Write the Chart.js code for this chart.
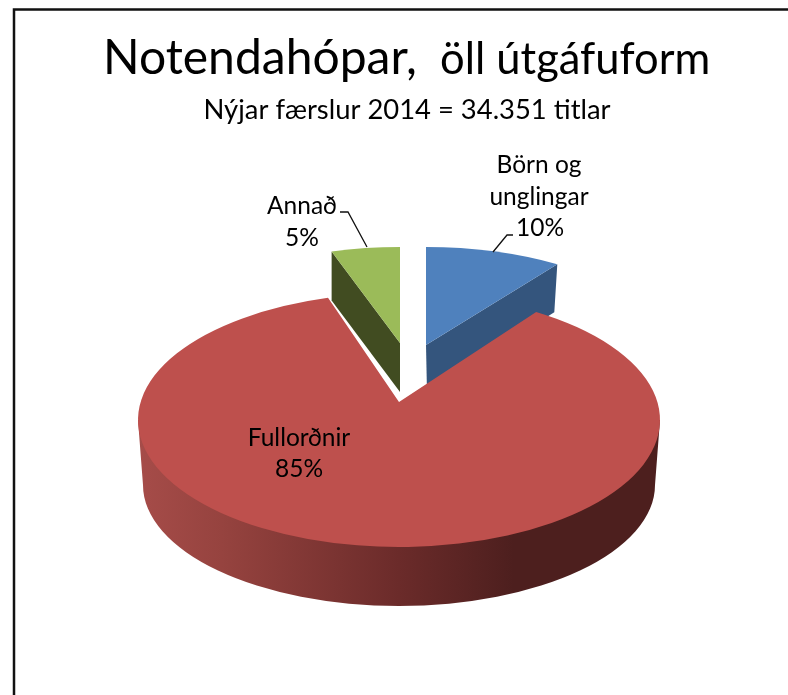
<!DOCTYPE html>
<html><head><meta charset="utf-8">
<style>html,body{margin:0;padding:0;background:#fff}canvas{display:block}</style>
<script src="https://cdn.jsdelivr.net/npm/chart.js@4"></script>
</head><body>
<canvas id="c" width="788" height="695"></canvas>
<script>
const categories = ['Börn og unglingar', 'Fullorðnir', 'Annað'];
const shares = [10, 85, 5];
const topColors = ['#4F81BD', '#BE504D', '#9BBB59'];
const wallColors = ['#34557D', '#6E2C2B', '#414C21'];

// Drawing geometry of the tilted, exploded slices (style, not data)
const sliceShape = [
  {ax:426, ay:345, cx:426, cy:374, rx:261, ry:127, k:.447, d:48, dx0:1, dx1:-3},
  {ax:399, ay:402, cx:399, cy:420, rx:261, ry:127, k:.477},
  {ax:400, ay:343, cx:400, cy:374, rx:261, ry:127, k:.435, d:49, dx0:0, dx1:0}
];
const base = {cx:399, cy:485, rx:256, ry:121};

function rayHit(s, angle) {
  // angle is the library's arc angle; -PI/2 is up
  const ux = Math.cos(angle), uy = Math.sin(angle) * s.k;
  const ox = (s.ax - s.cx) / s.rx, oy = (s.ay - s.cy) / s.ry;
  const vx = ux / s.rx, vy = uy / s.ry;
  const a = vx*vx + vy*vy, b = 2*(ox*vx + oy*vy), c = ox*ox + oy*oy - 1;
  const t = (-b + Math.sqrt(b*b - 4*a*c)) / (2*a);
  const x = s.ax + ux*t, y = s.ay + uy*t;
  return {x, y, t: Math.atan2((y - s.cy)/s.ry, (x - s.cx)/s.rx)};
}
function text(ctx, str, x, y, font, align) {
  ctx.font = font; ctx.textAlign = align || 'center'; ctx.textBaseline = 'alphabetic';
  ctx.fillStyle = '#000'; ctx.fillText(str, x, y);
}
const pie3d = {
  id: 'pie3d',
  beforeDatasetsDraw(chart) {
    const ctx = chart.ctx, arcs = chart.getDatasetMeta(0).data;
    const geo = arcs.map((arc, i) => {
      const s = sliceShape[i];
      return {s, a: rayHit(s, arc.startAngle), b: rayHit(s, arc.endAngle)};
    });
    ctx.save();
    // cut walls of the two far slices
    [0, 2].forEach(i => {
      const g = geo[i], s = g.s, e = i === 0 ? g.b : g.a;
      const p = [[s.ax,s.ay],[e.x,e.y],[e.x+s.dx1,e.y+s.d],[s.ax+s.dx0,s.ay+s.d]];
      ctx.beginPath(); p.forEach((q, n) => n ? ctx.lineTo(q[0], q[1]) : ctx.moveTo(q[0], q[1]));
      ctx.closePath(); ctx.fillStyle = wallColors[i]; ctx.fill();
    });
    // red rim
    const red = sliceShape[1];
    const grad = ctx.createLinearGradient(138, 0, 660, 0);
    grad.addColorStop(0, '#A64C49');
    grad.addColorStop(0.16, '#96433F');
    grad.addColorStop(0.5, '#6B2B2A');
    grad.addColorStop(0.72, '#4D1F1E');
    grad.addColorStop(1, '#4D1F1E');
    ctx.beginPath();
    ctx.moveTo(red.cx + red.rx, red.cy);
    ctx.lineTo(base.cx + base.rx, base.cy);
    ctx.ellipse(base.cx, base.cy, base.rx, base.ry, 0, 0, Math.PI);
    ctx.lineTo(red.cx - red.rx, red.cy);
    ctx.closePath(); ctx.fillStyle = grad; ctx.fill();
    // top faces
    geo.forEach((g, i) => {
      const s = g.s;
      ctx.beginPath(); ctx.moveTo(s.ax, s.ay); ctx.lineTo(g.a.x, g.a.y);
      ctx.ellipse(s.cx, s.cy, s.rx, s.ry, 0, g.a.t, g.b.t);
      ctx.closePath(); ctx.fillStyle = topColors[i]; ctx.fill();
    });
    // leader lines
    ctx.strokeStyle = '#111'; ctx.lineWidth = 1.3;
    [[[340,212],[348,212],[367,247]], [[513,235],[507,235],[493,252]]].forEach(l => {
      ctx.beginPath(); l.forEach((q, n) => n ? ctx.lineTo(q[0], q[1]) : ctx.moveTo(q[0], q[1])); ctx.stroke();
    });
    // frame: open on the right and at the bottom
    ctx.strokeStyle = '#111'; ctx.lineWidth = 2.5;
    ctx.beginPath(); ctx.moveTo(14, 695); ctx.lineTo(14, 9.5); ctx.lineTo(788, 9.5); ctx.stroke();
    // text
    const F = 'Lato, sans-serif';
    text(ctx, 'Notendahópar,', 103, 74, `48px ${F}`, 'left');
    text(ctx, 'öll útgáfuform', 440, 74, `43.5px ${F}`, 'left');
    text(ctx, 'Nýjar færslur 2014 = 34.351 titlar', 407, 119, `27.4px ${F}`);
    const L = `24.5px ${F}`;
    text(ctx, 'Börn og', 539, 173, L);
    text(ctx, 'unglingar', 539, 205, L);
    text(ctx, shares[0] + '%', 540, 236, L);
    text(ctx, 'Annað', 302, 214, L);
    text(ctx, shares[2] + '%', 302, 246, L);
    text(ctx, categories[1], 299, 446, L);
    text(ctx, shares[1] + '%', 299, 477, L);
    ctx.restore();
    return false;
  }
};
new Chart(document.getElementById('c'), {
  type: 'pie',
  data: { labels: categories, datasets: [{ data: shares, backgroundColor: topColors, borderWidth: 0 }] },
  options: {
    responsive: false, animation: false,
    plugins: { legend: { display: false }, tooltip: { enabled: false } }
  },
  plugins: [pie3d]
});
</script>
</body></html>
